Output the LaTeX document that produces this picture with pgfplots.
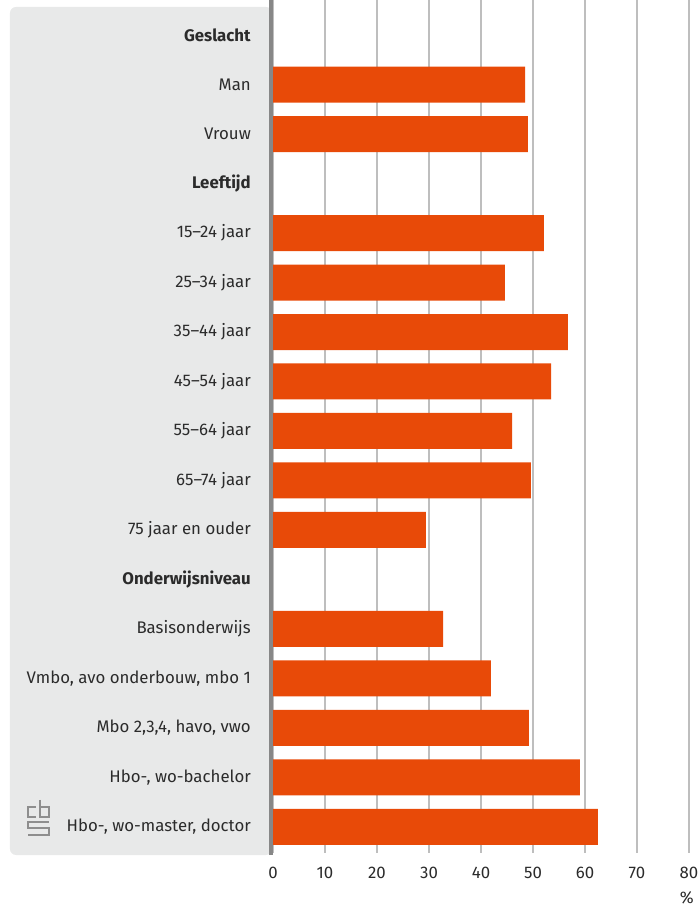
\documentclass[border=0pt]{standalone}
\usepackage{fontspec}
\setmainfont{Fira Sans}
\usepackage{pgfplots}
\pgfplotsset{compat=1.18}
\definecolor{barc}{HTML}{E84A08}
\definecolor{panel}{HTML}{E8E9E9}
\definecolor{gridc}{HTML}{BEBEBE}
\definecolor{axc}{HTML}{878787}
\definecolor{txt}{HTML}{2B2B2B}
\definecolor{logoc}{HTML}{8E8E8E}
\pgfplotstableread{
row value
1 48.5
2 49.0
4 52.1
5 44.6
6 56.7
7 53.5
8 46.0
9 49.6
10 29.4
12 32.7
13 41.9
14 49.2
15 59.0
16 62.5
}\datatable
\begin{document}
\begin{tikzpicture}[x=1pt,y=1pt]
\fill[panel, rounded corners=6pt] (-263,-2) rectangle (-1,846);
\begin{axis}[at={(0,0)}, anchor=south west, scale only axis,
  width=416pt, height=853pt,
  xmin=0, xmax=80, ymin=-0.71, ymax=16.53, y dir=reverse,
  xbar, bar width=36pt, bar shift=0pt,
  xtick={0,10,...,80}, ytick={0,...,16},
  yticklabels={\textbf{Geslacht},Man,Vrouw,\textbf{Leeftijd},15–24 jaar,25–34 jaar,35–44 jaar,45–54 jaar,55–64 jaar,65–74 jaar,75 jaar en ouder,\textbf{Onderwijsniveau},Basisonderwijs,{Vmbo, avo onderbouw, mbo 1},{Mbo 2,3,4, havo, vwo},{Hbo-, wo-bachelor},{Hbo-, wo-master, doctor}},
  axis line style={draw=none},
  major tick length=0pt,
  xmajorgrids, grid style={gridc, line width=1.6pt},
  tick label style={font=\fontsize{16.8}{19}\selectfont, text=txt},
  /pgf/number format/assume math mode=true,
  yticklabel style={inner sep=0pt, xshift=-22pt},
  xticklabel style={yshift=-11pt},
  clip=false,
]
\addplot[fill=barc, draw=none] table[x=value, y=row] {\datatable};
\end{axis}
\draw[axc, line width=3.5pt] (-2,-2) -- (-2,853);
\node[text=txt, font=\fontsize{16.8}{19}\selectfont, anchor=east, inner sep=0pt] at (421,-45) {\%};
% cbs logo
\begin{scope}[logoc, line width=1.1pt, double=panel, double distance=1.5pt]
\draw (-237,46) -- (-245,46) -- (-245,36) -- (-237,36);
\draw (-233,53) -- (-233,36) -- (-224,36) -- (-224,46) -- (-233,46);
\draw (-224,31) -- (-245,31) -- (-245,25) -- (-224,25) -- (-224,18) -- (-245,18);
\end{scope}
\pgfresetboundingbox
\path[use as bounding box] (-273,-54) rectangle (425,853);
\end{tikzpicture}
\end{document}
